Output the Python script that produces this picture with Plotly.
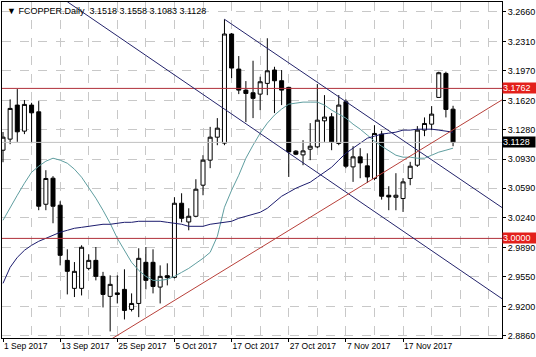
import plotly.graph_objects as go

# ---------------- data ----------------
bar_index = list(range(64))
opens = [3.1036, 3.1166, 3.1566, 3.1260, 3.1566, 3.1487, 3.0401, 3.0707, 3.0390, 2.9742,
         2.9413, 2.9413, 2.9648, 2.9742, 2.9554, 2.9319, 2.9360, 2.9401, 2.9166, 2.9236,
         2.9719, 2.9719, 2.9428, 2.9562, 2.9542, 3.0413, 3.0193, 3.0260, 3.0625, 3.0919,
         3.1189, 3.1119, 3.2401, 3.1989, 3.1742, 3.1711, 3.1695, 3.1821, 3.1978, 3.1852,
         3.1774, 3.1025, 3.0981, 3.1048, 3.1075, 3.1381, 3.1428, 3.1115, 3.1605, 3.0840,
         3.0958, 3.0852, 3.0704, 3.1225, 3.0507, 3.0483, 3.0468, 3.0704, 3.0860, 3.1272,
         3.1342, 3.1656, 3.1938, 3.1518]
highs = [3.1250, 3.1633, 3.1754, 3.1625, 3.1593, 3.1613, 3.0801, 3.0731, 3.0437, 2.9872,
         2.9722, 2.9919, 2.9813, 2.9899, 2.9607, 2.9566, 2.9566, 2.9637, 2.9354, 2.9884,
         2.9899, 2.9872, 2.9683, 2.9707, 3.0484, 3.0530, 3.0354, 3.0695, 3.0978, 3.1310,
         3.1413, 3.2574, 3.2413, 3.2142, 3.1848, 3.2087, 3.1899, 3.2351, 3.2016, 3.1978,
         3.1781, 3.1036, 3.1154, 3.1354, 3.1813, 3.1683, 3.1472, 3.1684, 3.1633, 3.1083,
         3.1060, 3.0999, 3.1330, 3.1264, 3.0613, 3.0766, 3.0707, 3.0899, 3.1319, 3.1421,
         3.1554, 3.1958, 3.1958, 3.1558]
lows = [3.0895, 3.1107, 3.1134, 3.1225, 3.1119, 3.0331, 3.0331, 3.0178, 2.9683, 2.9342,
        2.9311, 2.9330, 2.9625, 2.9507, 2.9189, 2.8907, 2.9236, 2.9048, 2.9142, 2.9075,
        2.9401, 2.9354, 2.9236, 2.9448, 2.9530, 3.0189, 3.0095, 3.0248, 3.0507, 3.0825,
        3.1095, 3.1095, 3.1883, 3.1695, 3.1366, 3.1413, 3.1507, 3.1683, 3.1472, 3.1566,
        3.0722, 3.0978, 3.0860, 3.0919, 3.1060, 3.1134, 3.1036, 3.1095, 3.0825, 3.0664,
        3.0707, 3.0652, 3.0683, 3.0456, 3.0331, 3.0331, 3.0311, 3.0625, 3.0840, 3.1201,
        3.1272, 3.1656, 3.1421, 3.1083]
closes = [3.1189, 3.1527, 3.1252, 3.1574, 3.1475, 3.0378, 3.0704, 3.0378, 2.9801, 2.9613,
          2.9613, 2.9896, 2.9742, 2.9554, 2.9342, 2.9460, 2.9342, 2.9154, 2.9236, 2.9766,
          2.9507, 2.9436, 2.9554, 2.9539, 3.0413, 3.0236, 3.0260, 3.0578, 3.0919, 3.1189,
          3.1295, 3.2401, 3.2001, 3.1742, 3.1703, 3.1645, 3.1840, 3.1969, 3.1852, 3.1742,
          3.1016, 3.0989, 3.1028, 3.1083, 3.1389, 3.1425, 3.1134, 3.1566, 3.0848, 3.0958,
          3.0887, 3.0722, 3.1233, 3.0495, 3.0487, 3.0507, 3.0664, 3.0848, 3.1272, 3.1350,
          3.1460, 3.1946, 3.1515, 3.1128]

ma_fast = [3.0213, 3.0366, 3.0507, 3.0648, 3.0777, 3.0848, 3.0907, 3.0942, 3.0919, 3.0883,
           3.0813, 3.0719, 3.0601, 3.0472, 3.0330, 3.0177, 3.0001, 2.9860, 2.9719, 2.9624,
           2.9554, 2.9507, 2.9507, 2.9519, 2.9554, 2.9601, 2.9648, 2.9707, 2.9766, 2.9836,
           3.0024, 3.0366, 3.0566, 3.0742, 3.0942, 3.1095, 3.1236, 3.1354, 3.1448, 3.1519,
           3.1577, 3.1589, 3.1601, 3.1601, 3.1601, 3.1566, 3.1507, 3.1460, 3.1413, 3.1342,
           3.1283, 3.1213, 3.1142, 3.1083, 3.1025, 3.0977, 3.0954, 3.0954, 3.0942, 3.0942,
           3.0977, 3.1013, 3.1036, 3.1060]
ma_slow = [2.9472, 2.9660, 2.9777, 2.9860, 2.9919, 2.9966, 3.0001, 3.0036, 3.0072, 3.0095,
           3.0119, 3.0130, 3.0142, 3.0154, 3.0166, 3.0166, 3.0177, 3.0189, 3.0189, 3.0201,
           3.0201, 3.0201, 3.0201, 3.0189, 3.0177, 3.0166, 3.0142, 3.0142, 3.0142, 3.0166,
           3.0177, 3.0189, 3.0201, 3.0236, 3.0260, 3.0283, 3.0307, 3.0354, 3.0425, 3.0495,
           3.0542, 3.0589, 3.0625, 3.0660, 3.0719, 3.0777, 3.0836, 3.0919, 3.1001, 3.1060,
           3.1119, 3.1177, 3.1201, 3.1225, 3.1236, 3.1248, 3.1272, 3.1272, 3.1283, 3.1283,
           3.1283, 3.1272, 3.1260, 3.1248]

channel_upper_x = [31, 70]
channel_upper_y = [3.2574, 3.0354]
channel_lower_x = [9, 70]
channel_lower_y = [3.2780, 2.9283]
support_x = [15, 70]
support_y = [2.8809, 3.1635]

level_prices = [3.1762, 3.0000]
last_price = 3.1128

x_tick_pos = [0, 8, 16, 24, 32, 40, 48, 56]
x_tick_labels = ["1 Sep 2017", "13 Sep 2017", "25 Sep 2017", "5 Oct 2017",
                 "17 Oct 2017", "27 Oct 2017", "7 Nov 2017", "17 Nov 2017"]
y_tick_vals = [3.2660, 3.2310, 3.1970, 3.1620, 3.1280, 3.0930, 3.0590, 3.0240,
               2.9890, 2.9550, 2.9200, 2.8860]
title_text = "\u25BC FCOPPER.Daily  3.1518 3.1558 3.1083 3.1128"

# ---------------- figure ----------------
FONT = "Liberation Sans, Arial, sans-serif"
X_RANGE = [-0.14, 69.85]
Y_RANGE = [2.8830, 3.2777]

fig = go.Figure()

fig.add_trace(go.Candlestick(
    x=bar_index, open=opens, high=highs, low=lows, close=closes,
    increasing=dict(line=dict(color="black", width=1), fillcolor="white"),
    decreasing=dict(line=dict(color="black", width=1), fillcolor="black"),
    whiskerwidth=0, showlegend=False, hoverinfo="skip",
))

fig.add_trace(go.Scatter(x=bar_index, y=ma_fast, mode="lines",
                         line=dict(color="#5f9ea0", width=1), showlegend=False, hoverinfo="skip"))
fig.add_trace(go.Scatter(x=bar_index, y=ma_slow, mode="lines",
                         line=dict(color="#1c1c6e", width=1), showlegend=False, hoverinfo="skip"))

# horizontal levels
for p in level_prices:
    fig.add_trace(go.Scatter(x=X_RANGE, y=[p, p], mode="lines",
                             line=dict(color="#b0303a", width=1), showlegend=False, hoverinfo="skip"))
fig.add_trace(go.Scatter(x=X_RANGE, y=[last_price, last_price], mode="lines",
                         line=dict(color="#c0c0c0", width=1), showlegend=False, hoverinfo="skip"))

# trend lines
fig.add_trace(go.Scatter(x=channel_upper_x, y=channel_upper_y, mode="lines",
                         line=dict(color="#23236b", width=1), showlegend=False, hoverinfo="skip"))
fig.add_trace(go.Scatter(x=channel_lower_x, y=channel_lower_y, mode="lines",
                         line=dict(color="#23236b", width=1), showlegend=False, hoverinfo="skip"))
fig.add_trace(go.Scatter(x=support_x, y=support_y, mode="lines",
                         line=dict(color="#b8403a", width=1), showlegend=False, hoverinfo="skip"))

annotations = [dict(xref="paper", yref="paper", x=0.006, y=0.995, xanchor="left", yanchor="top",
                    text=title_text, showarrow=False,
                    font=dict(family=FONT, size=9, color="black"))]
for p, bg in [(level_prices[0], "#e3201b"), (last_price, "black"), (level_prices[1], "#e3201b")]:
    annotations.append(dict(xref="paper", yref="y", x=1, y=p, xanchor="left", yanchor="middle",
                            text="%.4f" % p + "&nbsp;&nbsp;", showarrow=False, bgcolor=bg,
                            borderpad=0, xshift=0,
                            font=dict(family=FONT, size=9, color="white")))

fig.update_layout(
    width=536, height=357,
    margin=dict(l=2, r=34, t=2, b=19),
    paper_bgcolor="white", plot_bgcolor="white",
    boxgap=0.2, boxgroupgap=0.3,
    font=dict(family=FONT, size=9, color="black"),
    showlegend=False,
    annotations=annotations,
    xaxis=dict(
        range=X_RANGE, rangeslider=dict(visible=False),
        tickmode="array", tickvals=x_tick_pos, ticktext=x_tick_labels,
        ticklabelposition="outside right", tickangle=0, automargin=False,
        ticks="outside", ticklen=3, tickcolor="black",
        showline=True, mirror=True, linecolor="black", linewidth=1,
        showgrid=True, gridcolor="#c8c8c8", griddash="dash", gridwidth=1,
        minor=dict(tickmode="linear", tick0=0, dtick=4, showgrid=True,
                   gridcolor="#c8c8c8", griddash="dash", gridwidth=1, ticks=""),
        zeroline=False, fixedrange=True,
        tickfont=dict(family=FONT, size=8.5, color="black"),
    ),
    yaxis=dict(
        range=Y_RANGE, side="right", automargin=False,
        tickmode="array", tickvals=y_tick_vals, ticktext=["%.4f" % v for v in y_tick_vals],
        ticks="outside", ticklen=3, tickcolor="black",
        showline=True, mirror=True, linecolor="black", linewidth=1,
        showgrid=True, gridcolor="#c8c8c8", griddash="dash", gridwidth=1,
        zeroline=False, fixedrange=True,
        tickfont=dict(family=FONT, size=9, color="black"),
    ),
)

fig.write_html("out.html", config={"displayModeBar": False})
